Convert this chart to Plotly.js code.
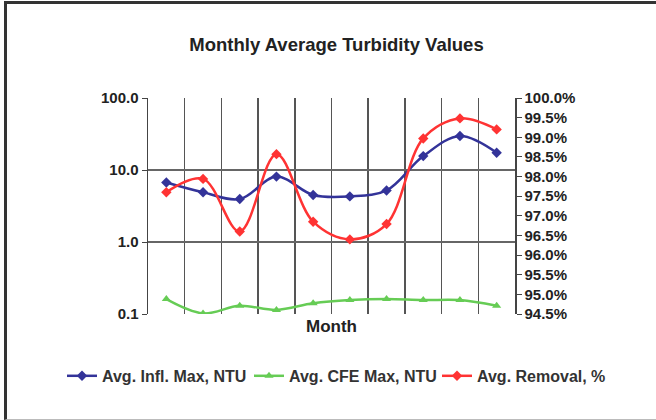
<!DOCTYPE html>
<html>
<head>
<meta charset="utf-8">
<script src="https://cdn.plot.ly/plotly-3.0.1.min.js"></script>
<style>
html,body{margin:0;padding:0;background:#fff;}
#wrap{position:relative;width:656px;height:420px;overflow:hidden;}
#chart{position:absolute;left:0;top:0;width:656px;height:420px;}
#frame{position:absolute;left:4px;top:1px;width:660px;height:415px;border-top:3px solid #333;border-left:3px solid #333;border-bottom:1px solid #bbb;pointer-events:none;}
</style>
</head>
<body>
<div id="wrap"><div id="chart"></div><div id="frame"></div></div>
<script>
const months = [1,2,3,4,5,6,7,8,9,10];
const inflMax = [6.7, 4.9, 3.95, 8.1, 4.5, 4.3, 5.2, 15.6, 29.7, 17.4];
const cfeMax = [0.161, 0.102, 0.130, 0.114, 0.141, 0.156, 0.161, 0.156, 0.156, 0.130];
const removal = [97.6, 97.94, 96.6, 98.57, 96.85, 96.4, 96.79, 98.97, 99.48, 99.2];
const leftTicks = [0.1, 1, 10, 100];
const leftTickText = ['0.1', '1.0', '10.0', '100.0'];
const gridBounds = [0.5,1.5,2.5,3.5,4.5,5.5,6.5,7.5,8.5,9.5,10.5];

const fam = 'Liberation Sans, Arial, sans-serif';
const tickFont = {size: 15, family: fam, color: '#222', weight: 'bold'};
const legFont = {size: 16, family: fam, color: '#333', weight: 'bold'};

const traces = [
  {x: months, y: inflMax, name: 'Avg. Infl. Max, NTU', type: 'scatter', mode: 'lines+markers',
   line: {color: '#333399', width: 2.5, shape: 'spline', smoothing: 1},
   marker: {symbol: 'diamond', size: 8, color: '#333399'}, yaxis: 'y', legend: 'legend'},
  {x: months, y: cfeMax, name: 'Avg. CFE Max, NTU', type: 'scatter', mode: 'lines+markers',
   line: {color: '#66cc55', width: 2.5, shape: 'spline', smoothing: 1},
   marker: {symbol: 'triangle-up', size: 8, color: '#66cc55'}, yaxis: 'y', legend: 'legend2'},
  {x: months, y: removal, name: 'Avg. Removal, %', type: 'scatter', mode: 'lines+markers',
   line: {color: '#ff3333', width: 2.5, shape: 'spline', smoothing: 1},
   marker: {symbol: 'diamond', size: 8, color: '#ff3333'}, yaxis: 'y2', legend: 'legend3'}
];

function leg(xpx) {
  return {orientation: 'h', xref: 'container', yref: 'container', x: xpx / 656, xanchor: 'left',
          y: 0.105, yanchor: 'middle', font: legFont, bgcolor: 'rgba(0,0,0,0)', borderwidth: 0};
}

const layout = {
  width: 656, height: 420,
  margin: {l: 148, r: 141, t: 98, b: 106},
  paper_bgcolor: '#fff', plot_bgcolor: '#fff',
  font: {family: fam, color: '#222', size: 12},
  title: {text: '<b>Monthly Average Turbidity Values</b>', font: {size: 18.5, family: fam, color: '#222'},
          x: 0.513, xanchor: 'center', y: 0.893, yanchor: 'middle'},
  showlegend: true,
  legend: leg(62),
  legend2: leg(249),
  legend3: leg(437),
  xaxis: {range: [0.5, 10.5], tickvals: gridBounds, showticklabels: false, showgrid: true,
          gridcolor: '#555', gridwidth: 1.5, zeroline: false, showline: false, ticks: '',
          title: {text: '<b>Month</b>', font: {size: 17, family: fam, color: '#222'}, standoff: 6}},
  yaxis: {type: 'log', range: [-1, 2], tickvals: leftTicks, ticktext: leftTickText,
          showgrid: true, gridcolor: '#666', gridwidth: 1.5, zeroline: false,
          showline: true, linecolor: '#444', linewidth: 1.5, ticks: 'outside', ticklen: 5, tickcolor: '#444',
          tickfont: tickFont},
  yaxis2: {overlaying: 'y', side: 'right', range: [94.5, 100], dtick: 0.5, tick0: 94.5,
           tickformat: '.1f', ticksuffix: '%', showgrid: false, zeroline: false,
           showline: true, linecolor: '#444', linewidth: 1.5, ticks: 'outside', ticklen: 5, tickcolor: '#444',
           tickfont: tickFont}
};

Plotly.newPlot('chart', traces, layout, {displayModeBar: false, staticPlot: true});
</script>
</body>
</html>
